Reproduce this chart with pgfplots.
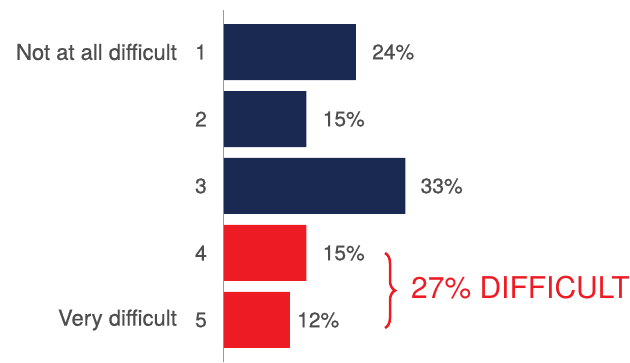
\documentclass[border=0pt]{standalone}
\usepackage{pgfplots}
\pgfplotsset{compat=1.18}
\usepackage{fontspec}
\setmainfont{TeX Gyre Heros}
\newfontfamily\medfont[FakeBold=0.6]{TeX Gyre Heros}
\usetikzlibrary{decorations.pathreplacing}
\definecolor{navy}{RGB}{26,41,82}
\definecolor{bred}{RGB}{237,28,36}
\definecolor{tgray}{RGB}{77,77,77}
\begin{document}
\begin{tikzpicture}
\useasboundingbox (0pt,0pt) rectangle (630pt,362pt);
\begin{axis}[
  at={(224pt,0pt)}, anchor=south west,
  scale only axis, width=220pt, height=352pt,
  xmin=0, xmax=40, ymin=0.373, ymax=5.627,
  xbar, bar width=56pt,
  hide x axis,
  axis y line=left,
  axis line style={-, draw=gray!80, line width=1pt},
  ytick={1,2,3,4,5}, yticklabels={5,4,3,2,1},
  major tick length=0pt,
  /pgf/number format/assume math mode=true,
  yticklabel style={font=\medfont\fontsize{21}{21}\selectfont, text=tgray, inner sep=0pt, xshift=-17pt},
  clip=false,
]
\addplot[fill=navy, draw=none, bar shift=0pt] coordinates {(24,5) (15,4) (33,3)};
\addplot[fill=bred, draw=none, bar shift=0pt] coordinates {(15,2) (12,1)};
\begin{scope}[font=\medfont\fontsize{21}{21}\selectfont, text=tgray]
\node[anchor=west, inner sep=0pt, xshift=16pt] at (axis cs:24,5) {24\%};
\node[anchor=west, inner sep=0pt, xshift=16pt] at (axis cs:15,4) {15\%};
\node[anchor=west, inner sep=0pt, xshift=15pt] at (axis cs:33,3) {33\%};
\node[anchor=west, inner sep=0pt, xshift=16pt] at (axis cs:15,2) {15\%};
\node[anchor=west, inner sep=0pt, xshift=7pt] at (axis cs:12,1) {12\%};
\end{scope}
\begin{scope}[font=\medfont\fontsize{22}{22}\selectfont, text=tgray]
\node[anchor=east, inner sep=0pt, xshift=-47pt] at (axis cs:0,5) {Not at all difficult};
\node[anchor=east, inner sep=0pt, xshift=-47pt] at (axis cs:0,1) {Very difficult};
\end{scope}
\end{axis}
\draw[bred, line width=2.5pt, decorate, decoration={brace, amplitude=10pt}] (385pt,109pt) -- (385pt,34pt);
\node[anchor=west, text=bred, font=\fontsize{30}{30}\selectfont, inner sep=0pt] at (411pt,74pt) {27\% DIFFICULT};
\end{tikzpicture}
\end{document}
